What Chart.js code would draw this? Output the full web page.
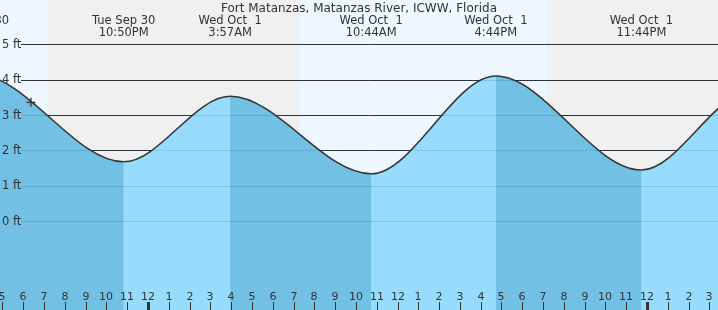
<!DOCTYPE html>
<html>
<head>
<meta charset="utf-8">
<script src="https://cdn.jsdelivr.net/npm/chart.js@4.4.1/dist/chart.umd.min.js"></script>
<style>
  html, body { margin: 0; padding: 0; background: #fff; overflow: hidden; }
  canvas { display: block; }
</style>
</head>
<body>
<canvas id="tide" width="718" height="310"></canvas>
<script>
// hours are counted from Wed Oct 1 00:00
const stationTitle = 'Fort Matanzas, Matanzas River, ICWW, Florida';

const tideHours   = [-14.8, -8.2, -1.17, 3.95, 10.73, 16.73, 23.73, 29.05, 35.85];
const tideHeights = [1.40, 4.14, 1.68, 3.53, 1.34, 4.10, 1.45, 3.69, 1.30];
const tideDays    = ['Tue Sep 30', 'Tue Sep 30', 'Tue Sep 30', 'Wed Oct  1', 'Wed Oct  1',
                     'Wed Oct  1', 'Wed Oct  1', 'Thu Oct  2', 'Thu Oct  2'];
const tideClock   = ['9:12AM', '3:48PM', '10:50PM', '3:57AM', '10:44AM', '4:44PM', '11:44PM', '5:03AM', '11:51AM'];

const nowHour = -5.63;
const nowHeight = 3.36;

const nightStart = [-4.81, 19.19];
const nightEnd   = [7.31, 31];

const feetTicks = [0, 1, 2, 3, 4, 5];
const hourTicks = [-7, -6, -5, -4, -3, -2, -1, 0, 1, 2, 3, 4, 5, 6, 7, 8, 9, 10, 11,
  12, 13, 14, 15, 16, 17, 18, 19, 20, 21, 22, 23, 24, 25, 26, 27];

const DAY_BG = '#eef7ff';
const NIGHT_BG = '#f0f0f0';
const RISING = '#97dcfc';
const FALLING = '#72c0e4';
const INK = '#333';
const FONT = '"DejaVu Sans", sans-serif';

const hourLabel = function(h) {
  let v = ((h % 12) + 12) % 12;
  return String(v === 0 ? 12 : v);
};

const decor = {
  id: 'decor',
  beforeDraw(chart) {
    const {ctx, chartArea: a, scales: {x}} = chart;
    ctx.save();
    ctx.fillStyle = DAY_BG;
    ctx.fillRect(a.left, a.top, a.right - a.left, a.bottom - a.top);
    ctx.fillStyle = NIGHT_BG;
    for (let i = 0; i < nightStart.length; i++) {
      let x0 = x.getPixelForValue(nightStart[i]);
      let x1 = x.getPixelForValue(nightEnd[i]);
      ctx.fillRect(x0, a.top, x1 - x0, a.bottom - a.top);
    }
    ctx.restore();
  },
  beforeDatasetsDraw(chart) {
    const {ctx, chartArea: a, scales: {y}} = chart;
    ctx.save();
    ctx.strokeStyle = INK;
    ctx.lineWidth = 1;
    feetTicks.forEach(v => {
      let py = Math.round(y.getPixelForValue(v)) + 0.5;
      ctx.beginPath();
      ctx.moveTo(21, py);
      ctx.lineTo(a.right, py);
      ctx.stroke();
    });
    ctx.restore();
  },
  afterDatasetsDraw(chart) {
    const {ctx, chartArea: a, scales: {x, y}} = chart;
    ctx.save();
    // grid seen through the water
    ctx.strokeStyle = 'rgba(0, 60, 120, 0.15)';
    ctx.lineWidth = 1;
    feetTicks.forEach(v => {
      let py = Math.round(y.getPixelForValue(v)) + 0.5;
      ctx.beginPath();
      ctx.moveTo(21, py);
      ctx.lineTo(a.right, py);
      ctx.stroke();
    });

    ctx.fillStyle = INK;
    ctx.font = '11.5px ' + FONT;
    ctx.textAlign = 'left';
    ctx.textBaseline = 'middle';
    feetTicks.forEach(v => {
      ctx.fillText(v + ' ft', 2, y.getPixelForValue(v) + 0.5);
    });

    // hour axis along the bottom
    ctx.font = '11px ' + FONT;
    ctx.textAlign = 'center';
    ctx.textBaseline = 'alphabetic';
    hourTicks.forEach(h => {
      let px = Math.round(x.getPixelForValue(h));
      ctx.fillText(hourLabel(h), px, 300);
      let w = (h % 24 === 0) ? 3 : 1;
      ctx.fillRect(px - Math.floor(w / 2), 302, w, 8);
    });

    // high / low labels
    ctx.font = '11.5px ' + FONT;
    tideHours.forEach((t, i) => {
      let px = x.getPixelForValue(t);
      ctx.fillText(tideDays[i], px, 24);
      ctx.fillText(tideClock[i], px, 36);
    });

    ctx.font = '12px ' + FONT;
    ctx.fillText(stationTitle, (a.left + a.right) / 2, 12);
    ctx.restore();
  }
};

const tidePoints = tideHours.map((t, i) => ({x: t, y: tideHeights[i]}));

new Chart(document.getElementById('tide'), {
  type: 'line',
  data: {
    datasets: [{
      // falling tide shading + curve
      data: tidePoints,
      order: 2,
      borderColor: INK,
      borderWidth: 1.5,
      pointRadius: 0,
      cubicInterpolationMode: 'monotone',
      fill: 'start',
      backgroundColor: 'rgba(0,0,0,0)',
      segment: {
        backgroundColor: c => c.p0.parsed.y > c.p1.parsed.y ? FALLING : 'rgba(0,0,0,0)'
      }
    }, {
      // base water
      data: tidePoints,
      order: 3,
      borderWidth: 0,
      borderColor: 'rgba(0,0,0,0)',
      pointRadius: 0,
      cubicInterpolationMode: 'monotone',
      fill: 'start',
      backgroundColor: RISING
    }, {
      data: [{x: nowHour, y: nowHeight}],
      order: 1,
      showLine: false,
      pointStyle: 'cross',
      pointRadius: 4.5,
      borderColor: INK,
      borderWidth: 1.3
    }]
  },
  options: {
    responsive: false,
    animation: false,
    layout: { padding: 0, autoPadding: false },
    plugins: { legend: { display: false }, tooltip: { enabled: false } },
    scales: {
      x: { type: 'linear', min: -7.118, max: 27.414, display: false },
      y: { type: 'linear', min: -2.506, max: 6.25, display: false }
    }
  },
  plugins: [decor]
});
</script>
</body>
</html>
